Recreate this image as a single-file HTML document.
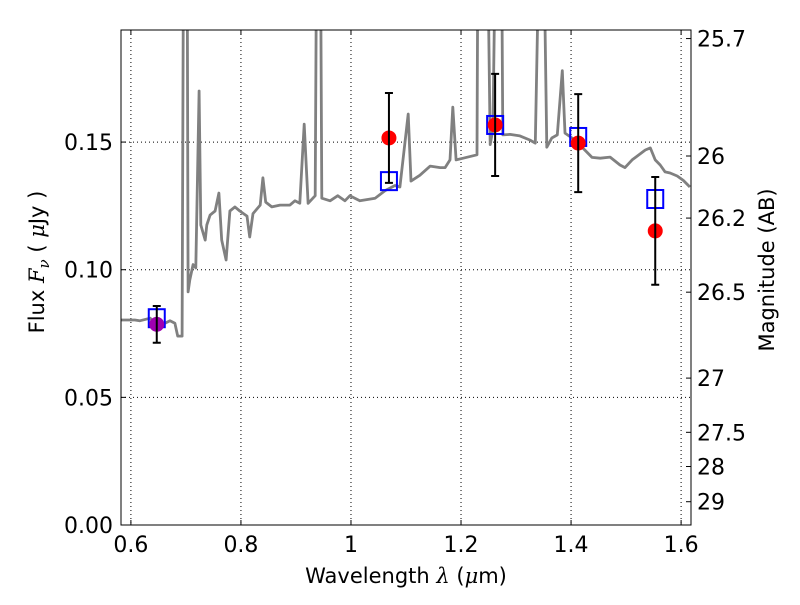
<!DOCTYPE html>
<html><head><meta charset="utf-8"><style>
body{margin:0;background:#fff;}
svg text{font-family:"DejaVu Sans","Liberation Sans",sans-serif;fill:#000;}
</style></head><body>
<svg id="chart" width="800" height="600" xmlns="http://www.w3.org/2000/svg">
<defs><clipPath id="clip"><rect x="121" y="30" width="570" height="495"/></clipPath></defs>
<rect x="0" y="0" width="800" height="600" fill="#fff"/>
<g id="grid"></g>
<g id="spec" clip-path="url(#clip)"></g>
<g id="pts"></g>
<rect x="121" y="30" width="570" height="495" fill="none" stroke="#000" stroke-width="1"/>
<g id="axes"></g>
<text x="406" y="583" font-size="21" text-anchor="middle">Wavelength  <tspan font-style="italic" font-family="DejaVu Serif,serif">λ</tspan> (<tspan font-style="italic" font-family="DejaVu Serif,serif">μ</tspan>m)</text>
<text transform="translate(44,262) rotate(-90)" font-size="21" text-anchor="middle">Flux  <tspan font-style="italic" font-family="DejaVu Serif,serif">F</tspan><tspan font-style="italic" font-family="DejaVu Serif,serif" font-size="15" dy="5">ν</tspan><tspan dy="-5">  (  </tspan><tspan font-style="italic" font-family="DejaVu Serif,serif">μ</tspan>Jy )</text>
<text transform="translate(774,270) rotate(-90)" font-size="21" text-anchor="middle">Magnitude (AB)</text>
</svg>
<script>
const specWave=[0.582,0.607,0.616,0.635,0.647,0.662,0.671,0.680,0.685,0.693,0.696,0.702,0.704,0.707,0.713,0.718,0.724,0.727,0.735,0.738,0.744,0.753,0.760,0.765,0.773,0.780,0.789,0.798,0.811,0.816,0.822,0.835,0.840,0.845,0.856,0.871,0.889,0.898,0.907,0.915,0.922,0.935,0.938,0.944,0.947,0.962,0.976,0.989,0.998,1.016,1.044,1.062,1.080,1.089,1.104,1.109,1.125,1.144,1.162,1.171,1.180,1.185,1.191,1.204,1.229,1.231,1.247,1.253,1.258,1.264,1.273,1.276,1.289,1.307,1.325,1.335,1.344,1.349,1.356,1.365,1.375,1.384,1.389,1.407,1.425,1.438,1.453,1.471,1.489,1.498,1.511,1.535,1.544,1.553,1.562,1.571,1.580,1.593,1.604,1.616];
const specFlux=[0.0803,0.0803,0.080,0.081,0.078,0.079,0.080,0.079,0.074,0.074,0.25,0.25,0.0913,0.096,0.102,0.1007,0.170,0.1175,0.1116,0.1175,0.1214,0.123,0.130,0.1116,0.1038,0.123,0.1246,0.123,0.121,0.1128,0.122,0.1253,0.136,0.1265,0.1246,0.1253,0.1253,0.127,0.126,0.157,0.126,0.129,0.25,0.25,0.128,0.127,0.129,0.127,0.129,0.127,0.128,0.131,0.133,0.1324,0.161,0.1347,0.137,0.1406,0.140,0.140,0.143,0.1637,0.143,0.1437,0.145,0.25,0.25,0.149,0.155,0.25,0.25,0.1528,0.153,0.1524,0.1508,0.1496,0.25,0.25,0.148,0.1516,0.1528,0.178,0.1535,0.1508,0.1469,0.144,0.1437,0.1441,0.141,0.140,0.143,0.1469,0.1477,0.143,0.141,0.1383,0.1379,0.1367,0.135,0.1324];
const obsWave=[0.647,1.069,1.262,1.413,1.553];
const obsFlux=[0.0786,0.1516,0.1567,0.1496,0.1152];
const obsErr=[0.0072,0.0176,0.020,0.0192,0.0211];
const modelFlux=[0.081,0.1347,0.1567,0.152,0.1277];
const xTicks=[0.6,0.8,1.0,1.2,1.4,1.6];
const xTickLabels=["0.6","0.8","1","1.2","1.4","1.6"];
const yTicks=[0,0.05,0.10,0.15];
const yTickLabels=["0.00","0.05","0.10","0.15"];
const magTicks=[25.7,26,26.2,26.5,27,27.5,28,29];

const NS="http://www.w3.org/2000/svg";
const X0=121,X1=691,Y0=525,Y1=30,xmin=0.582,xmax=1.618,ymin=0,ymax=0.1939;
function sx(v){return X0+(v-xmin)/(xmax-xmin)*(X1-X0);}
function sy(v){return Y0-(v-ymin)/(ymax-ymin)*(Y0-Y1);}
function mk(tag,attrs,parent){const e=document.createElementNS(NS,tag);for(const k in attrs)e.setAttribute(k,attrs[k]);parent.appendChild(e);return e;}
const grid=document.getElementById('grid'),axes=document.getElementById('axes'),spec=document.getElementById('spec'),pts=document.getElementById('pts');
xTicks.forEach((t,i)=>{const x=sx(t);
 const g=mk('line',{x1:x,x2:x,y1:Y1,y2:Y0,stroke:'#000','stroke-width':1,'stroke-dasharray':'1,3'},grid);
 
 
 mk('line',{x1:x,x2:x,y1:Y0,y2:Y0-5,stroke:'#000'},axes);
 mk('line',{x1:x,x2:x,y1:Y1,y2:Y1+5,stroke:'#000'},axes);
 const tx=mk('text',{x:x,y:Y0+27,'font-size':22,'text-anchor':'middle'},axes);tx.textContent=xTickLabels[i];
 
 
});
yTicks.forEach((t,i)=>{const y=sy(t);
 if(t>0){const g=mk('line',{x1:X0,x2:X1,y1:y,y2:y,stroke:'#000','stroke-width':1,'stroke-dasharray':'1,3'},grid);
 
 }
 mk('line',{x1:X0,x2:X0+5,y1:y,y2:y,stroke:'#000'},axes);
 const tx=mk('text',{x:X0-8,y:y+8,'font-size':22,'text-anchor':'end'},axes);tx.textContent=yTickLabels[i];
 
 
});
magTicks.forEach(m=>{const f=Math.pow(10,(23.9-m)/2.5);const y=sy(f);
 mk('line',{x1:X1,x2:X1-5,y1:y,y2:y,stroke:'#000'},axes);
 const tx=mk('text',{x:X1+6,y:y+8,'font-size':22},axes);tx.textContent=String(m);
 
 
});
let d='';specWave.forEach((w,i)=>{d+=(i?'L':'M')+sx(w).toFixed(1)+','+sy(specFlux[i]).toFixed(1);});
const sp=mk('path',{d:d,fill:'none',stroke:'#808080','stroke-width':2.8,'stroke-linejoin':'round'},spec);


obsWave.forEach((w,i)=>{const x=sx(w);
 const sq=mk('rect',{x:x-8,y:sy(modelFlux[i])-9,width:16,height:18,fill:'none',stroke:'#0000ff','stroke-width':2},pts);
 
 
 const c=mk('circle',{cx:x,cy:sy(obsFlux[i]),r:7.5,fill:i===0?'#a000b0':'#ff0000'},pts);
 
 
 const yt=sy(obsFlux[i]+obsErr[i]),yb=sy(obsFlux[i]-obsErr[i]);
 const eb=mk('path',{d:`M${x},${yt}L${x},${yb}M${x-4},${yt}L${x+4},${yt}M${x-4},${yb}L${x+4},${yb}`,stroke:'#000','stroke-width':2,fill:'none'},pts);
 
 
});
</script>
</body></html>
